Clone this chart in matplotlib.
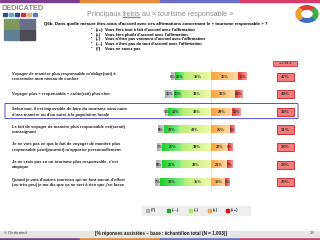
import numpy as np
import matplotlib
matplotlib.use('Agg')
import matplotlib.pyplot as plt
from matplotlib import transforms
from matplotlib.patches import Rectangle, FancyBboxPatch, Wedge
from matplotlib.colors import LinearSegmentedColormap

plt.rcParams['font.family'] = ['Liberation Sans', 'DejaVu Sans']

# data
statements = [
    "Voyager de manière plus responsable m'oblige(rait) à\nrestreindre mon niveau de confort",
    "Voyager plus « responsable » coûte(rait) plus cher",
    "Selon moi, il est impossible de faire du tourisme sans nuire\nd'une manière ou d'un autre à la population locale",
    "Le fait de voyager de manière plus responsable est(serait)\ncontraignant",
    "Je ne vois pas ce que le fait de voyager de manière plus\nresponsable peut(pourrait) m'apporter personnellement",
    "Je ne crois pas en un tourisme plus responsable, c'est\nutopique",
    "Quand je vois d'autres touristes qui ne font aucun d'effort\n(ou très peu) je me dis que ça ne sert à rien que j'en fasse",
]
dont_know = [6, 11, 5, 8, 7, 8, 7]
disagree_strong = [12, 11, 18, 20, 26, 26, 32]
disagree = [35, 38, 38, 42, 38, 39, 35]
agree = [36, 31, 28, 25, 22, 21, 19]
agree_strong = [11, 10, 11, 6, 6, 7, 6]
agree_total = [47, 40, 39, 31, 28, 28, 25]
legend_labels = ['(?)', '(––)', '(–)', '(+)', '(++)']
answer_codes = ['(++)', '(+)', '(–)', '(––)', '(?)']
answer_texts = [
    "Vous êtes tout à fait d'accord avec l'affirmation",
    "Vous êtes plutôt d'accord avec l'affirmation",
    "Vous n'êtes pas vraiment d'accord avec l'affirmation",
    "Vous n'êtes pas du tout d'accord avec l'affirmation",
    "Vous ne savez pas",
]
highlight_row = 2

W, H = 320, 240
def fx(x):
    return x / W
def fy(y):
    return 1 - y / H

fig = plt.figure(figsize=(3.2, 2.4), dpi=100)
renderer = fig.canvas.get_renderer()

# decoration: stripes, logos, title
stripe_cols = ['#7b3f8f', '#e88a3a', '#6b6fc8', '#d83a6a']
for k, c in enumerate(stripe_cols):
    fig.patches.append(Rectangle((k / 4, fy(1.5)), 0.25, 1.5 / H, transform=fig.transFigure, color=c))
    fig.patches.append(Rectangle((k / 4, 0), 0.25, 2.5 / H, transform=fig.transFigure, color=c))
fig.patches.append(Rectangle((0, fy(236.5)), 1, 6 / H, transform=fig.transFigure, color='#e6e6e6'))

fig.text(fx(2), fy(8), 'DEDICATED', fontsize=5.3, fontweight='bold', color='#8a8a8a', va='center')
for k, c in enumerate(['#3a4a8a', '#5ab0d0', '#3a4a8a', '#cc3344', '#e8b080', '#5577cc']):
    fig.patches.append(Rectangle((fx(3 + k * 6), fy(15.5)), 3.8 / W, 2.5 / H, transform=fig.transFigure, color=c))
for (x0, y0, c) in [(4, 19, '#7f9a5a'), (20, 19, '#6a6f8a'), (4, 30, '#5f7f96'), (20, 30, '#4c4c55')]:
    fig.patches.append(Rectangle((fx(x0), fy(y0 + 10)), 15 / W, 10 / H, transform=fig.transFigure, color=c))

cx, cy, r = 307, 14, 11
ring = [(45, 135, '#e03a3a'), (-45, 45, '#3fae49'), (-135, -45, '#3a6fc8'), (135, 225, '#f0a030')]
for a0, a1, c in ring:
    fig.patches.append(Wedge((fx(cx), fy(cy)), r / W, a0, a1, width=4.5 / W, transform=fig.transFigure, color=c))

# title, built piece by piece so "freins" can be underlined
title_parts = ['Principaux ', 'freins', ' au « tourisme responsable »']
widths = []
for p in title_parts:
    t = fig.text(0, 0, p, fontsize=5.2)
    widths.append(t.get_window_extent(renderer).width)
    t.remove()
x_run = 160 - sum(widths) / 2
for k, p in enumerate(title_parts):
    fig.text(fx(x_run), fy(14), p, fontsize=5.2, color='#8c8c8c', ha='left', va='center')
    if p == 'freins':
        fig.patches.append(Rectangle((fx(x_run), fy(17)), widths[k] / W, 0.45 / H, transform=fig.transFigure, color='#8c8c8c'))
    x_run += widths[k]

fig.text(fx(44), fy(24.5), "Q6b. Dans quelle mesure êtes-vous d'accord avec ces affirmations concernant le « tourisme responsable » ?",
         fontsize=3.15, fontweight='bold', va='center')
for k, (code, txt) in enumerate(zip(answer_codes, answer_texts)):
    yy = fy(30 + 4.7 * k)
    fig.text(fx(91), yy, '•', fontsize=3, va='center')
    fig.text(fx(96), yy, code, fontsize=2.9, fontweight='bold', va='center')
    fig.text(fx(105), yy, txt, fontsize=2.9, fontweight='bold', va='center')

# main diverging bars
x_center, px_per_pct = 211, 0.76
row0, row_step = 76.7, 17.6
n = len(statements)
ax_top, ax_bot = row0 - row_step / 2, row0 + row_step * (n - 0.5)
ax = fig.add_axes([fx(130), fy(ax_bot), 130 / W, (ax_bot - ax_top) / H])
ax.axis('off')

grads = [('#a9a9a9', '#dadada'), ('#1fcf2a', '#8ef08e'), ('#b8ee74', '#eefaa8'),
         ('#ffa23c', '#ffdca6'), ('#e63232', '#ff9a9a')]
cmaps = [LinearSegmentedColormap.from_list('g%d' % k, g) for k, g in enumerate(grads)]
series = [dont_know, disagree_strong, disagree, agree, agree_strong]
bh = 0.43
ramp = np.linspace(0, 1, 64)[None, :]
ax.axvline(0, color='#d6d6d6', lw=0.5, zorder=0)
for i in range(n):
    lefts = [-(dont_know[i] + disagree_strong[i] + disagree[i]),
             -(disagree_strong[i] + disagree[i]),
             -disagree[i], 0, agree[i]]
    for k in range(5):
        v = series[k][i]
        l = lefts[k]
        ax.imshow(ramp, extent=(l, l + v, i + bh / 2, i - bh / 2), cmap=cmaps[k], aspect='auto', zorder=2)
        ax.text(l + v / 2, i, f'{v}%', ha='center', va='center', fontsize=2.8, fontweight='bold', color='#333333', zorder=3)
ax.set_xlim((130 - x_center) / px_per_pct, (260 - x_center) / px_per_pct)
ax.set_ylim(n - 0.5, -0.5)

trans = transforms.blended_transform_factory(fig.transFigure, ax.transData)
for i, s in enumerate(statements):
    ax.text(fx(12), i, s, transform=trans, fontsize=3.0, fontweight='bold', va='center', ha='left', linespacing=1.5, color='#222222')
    ax.add_patch(Rectangle((fx(277), i - 0.23), 17 / W, 0.46, transform=trans, fc='#f47c7c', ec='#c82020', lw=0.6, clip_on=False))
    ax.text(fx(285.5), i, f'{agree_total[i]}%', transform=trans, ha='center', va='center', fontsize=3.2, fontweight='bold', color='#333333')

fig.patches.append(Rectangle((fx(273), fy(66.2)), 24 / W, 5.5 / H, transform=fig.transFigure, fc='#f47c7c', ec='#c82020', lw=0.5))
fig.text(fx(285), fy(63.5), '++ et +', fontsize=2.8, fontweight='bold', ha='center', va='center', color='#333333')

hl = FancyBboxPatch((fx(5), highlight_row - 0.48), fx(293), 0.86, transform=trans,
                    boxstyle='round,pad=0,rounding_size=0.01', fc='none', ec='#5050c8', lw=0.7, clip_on=False)
ax.add_patch(hl)

# legend
fig.patches.append(Rectangle((fx(142), fy(214.5)), 108 / W, 9 / H, transform=fig.transFigure, color='#eeeeee'))
leg_cols = ['#b0b0b0', '#22aa22', '#a8ec58', '#f0a050', '#dd1111']
leg_x = [146, 167, 189, 208, 226]
for c, lab, x0 in zip(leg_cols, legend_labels, leg_x):
    fig.patches.append(Rectangle((fx(x0), fy(211.5)), 3 / W, 3 / H, transform=fig.transFigure, color=c))
    fig.text(fx(x0 + 4.5), fy(210), lab, fontsize=2.9, fontweight='bold', va='center', color='#333333')

fig.text(fx(4), fy(233.5), '© Dedicated', fontsize=3, va='center', color='#444444')
fig.text(fx(161), fy(233.5), '[% réponses assistées – base : échantillon total (N = 1.003)]', fontsize=3.3,
         fontweight='bold', ha='center', va='center', color='#222222')
fig.text(fx(314), fy(233.5), '29', fontsize=3, ha='right', va='center', color='#444444')

fig.savefig('out.png', dpi=100)
